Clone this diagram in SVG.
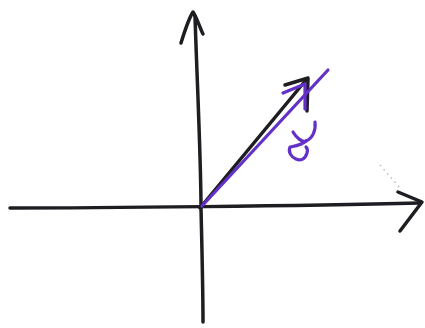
<svg xmlns="http://www.w3.org/2000/svg" width="425" height="328" viewBox="0 0 425 328">
<style>
.ink{fill:none;stroke:#1e1e22;stroke-width:3.5;stroke-linecap:round;stroke-linejoin:round}
.pur{fill:none;stroke:#6330c8;stroke-width:3.2;stroke-linecap:round;stroke-linejoin:round}
</style>
<rect width="425" height="328" fill="#ffffff"/>
<g id="connectors">
<path class="ink" d="M10,208 C100,208 300,206 419,203"/>
<path class="ink" d="M398,192 L422,202 L400,231"/>
<path class="ink" d="M195,16 C197,80 201,160 201,208 C202,250 203,290 203,322"/>
<path class="ink" d="M181,43 C185,30 189,18 193,12 C197,18 200,28 203,34"/>
<path class="ink" d="M200,208 L306,80"/>
<path class="ink" d="M285,85 L308,78 L307,111"/>
<path class="pur" d="M202,206 L328,70"/>
<path class="pur" d="M283,93 L305,84 L305,109"/>
<path d="M380,165 L400,188" stroke="#bbbbbb" stroke-width="1.5" stroke-dasharray="1.5 4" fill="none"/>
</g>
<g id="label-u">
<path class="pur" d="M315,122 C316,130 313,138 306,141 C302,143 296,137 293,132"/>
<path class="pur" d="M306,141 C302,145 295,146 290,147 C288,152 291,157 296,159 C300,161 305,160 307,153 C308,150 307,148 306,147"/>
</g>
</svg>
